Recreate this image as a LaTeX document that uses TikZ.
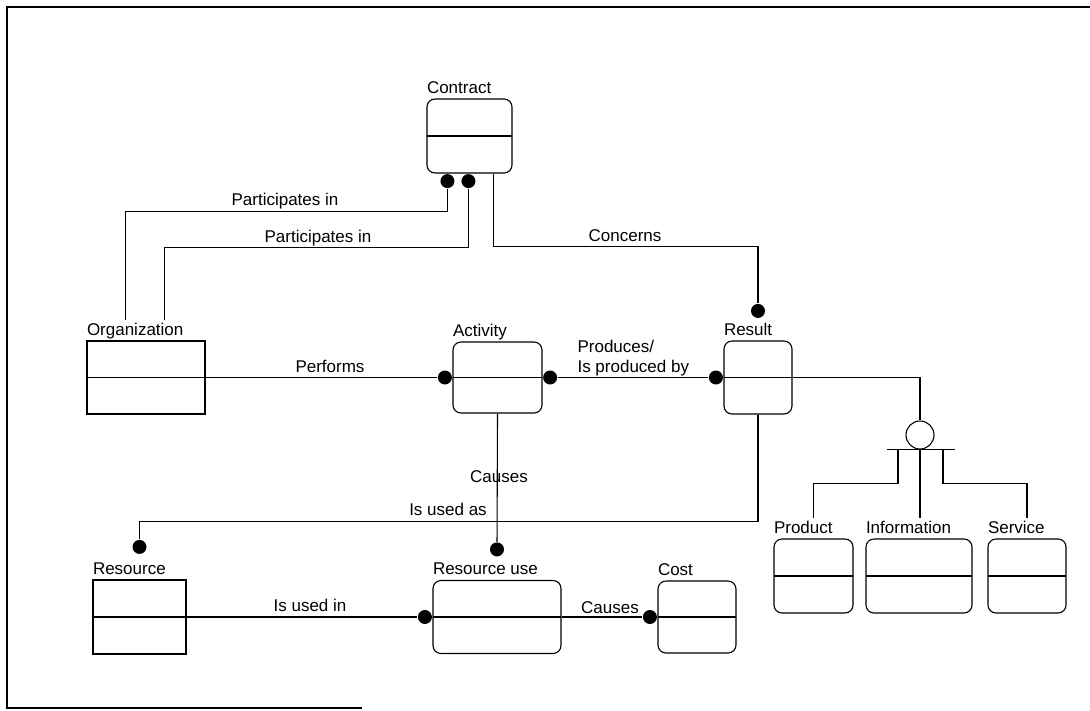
\documentclass[tikz,border=0pt]{standalone}
\usepackage{fontspec}
\setmainfont{Liberation Sans}
\usetikzlibrary{positioning}

\begin{document}
\begin{tikzpicture}[x=1pt, y=-1pt, line width=1.1pt,
  every node/.style={font=\fontsize{17}{20}\selectfont},
  entity/.style={draw, rounded corners=8pt, minimum height=73pt,
    path picture={\draw[line width=1.1pt] (path picture bounding box.west) -- (path picture bounding box.east);}},
  sqentity/.style={entity, sharp corners},
  ename/.style={anchor=base west, inner xsep=0pt, inner ysep=3pt, yshift=5pt},
  blob/.style={circle, fill, inner sep=0pt, minimum size=14pt}]

\useasboundingbox (0,0) rectangle (1090,710);
\draw[line width=2pt] (1090,7) -- (7,7) -- (7,708) -- (362,708);


\node[entity, minimum width=85pt, minimum height=74pt] (contract) at (469.5,136) {};
\node[sqentity, minimum width=118pt] (org) at (146,377.5) {};
\node[entity, minimum width=89pt, minimum height=71pt] (act) at (497.5,377.5) {};
\node[entity, minimum width=68pt] (result) at (758,377.5) {};
\node[sqentity, minimum width=93pt, minimum height=74pt] (resrc) at (139.5,617) {};
\node[entity, minimum width=128pt] (ruse) at (497,617) {};
\node[entity, minimum width=78pt, minimum height=72pt] (cost) at (697,617) {};
\node[entity, minimum width=79pt, minimum height=74pt] (prod) at (813.5,576) {};
\node[entity, minimum width=106pt, minimum height=74pt] (info) at (919,576) {};
\node[entity, minimum width=78pt, minimum height=74pt] (serv) at (1027,576) {};

\node[ename] (contractlbl) at (contract.north west) {Contract};
\node[ename] (orglbl) at (org.north west) {Organization};
\node[ename] (actlbl) at (act.north west) {Activity};
\node[ename] (resultlbl) at (result.north west) {Result};
\node[ename] (resrclbl) at (resrc.north west) {Resource};
\node[ename] (uselbl) at (ruse.north west) {Resource use};
\node[ename] (costlbl) at (cost.north west) {Cost};
\node[ename] (prodlbl) at (prod.north west) {Product};
\node[ename] (infolbl) at (info.north west) {Information};
\node[ename] (servlbl) at (serv.north west) {Service};


\node[blob, anchor=north] (cdot1) at ([xshift=21pt]contract.south west) {};
\node[blob, anchor=north] (cdot2) at ([xshift=42pt]contract.south west) {};
\node[blob, anchor=east] (adot1) at (act.west) {};
\node[blob, anchor=west] (adot2) at (act.east) {};
\node[blob, anchor=east] (rdot1) at (result.west) {};
\node[blob, anchor=south] (rdot2) at ([yshift=22pt]result.north) {};
\node[blob, anchor=south] (sdot) at ([yshift=25pt]resrc.north) {};
\node[blob, anchor=south] (udot1) at ([yshift=23pt]ruse.north) {};
\node[blob, anchor=east] (udot2) at (ruse.west) {};
\node[blob, anchor=east] (kdot) at (cost.west) {};

\draw (cdot1) -- ++(0,30) -| ([xshift=39pt]orglbl.north west);
\draw (cdot2) -- ++(0,66) -| ([xshift=78pt]orglbl.north west);
\draw ([xshift=-19pt]contract.south east) -- ++(0,73) -| (rdot2);
\draw (org.east) -- (adot1);
\draw (adot2) -- (rdot1);
\draw (act.south) -- (udot1);
\draw (result.south) -- ++(0,107) -| (sdot);
\draw (resrc.east) -- (udot2);
\draw (ruse.east) -- (kdot);

\node[anchor=base] (lpart1) at (285,205) {Participates in};
\node[anchor=base] (lpart2) at (318,242) {Participates in};
\node[anchor=base] (lconc) at (625,241) {Concerns};
\node[anchor=base] (lperf) at (330,372) {Performs};
\node[anchor=base west, align=left, inner xsep=0pt] (lprod) at (577,372) {Produces/\\Is produced by};
\node[anchor=base] (lcause1) at (499,482) {Causes};
\node[anchor=base] (lusedas) at (448,515) {Is used as};
\node[anchor=base] (lusedin) at (310,611) {Is used in};
\node[anchor=base] (lcause2) at (610,613) {Causes};


\node[circle, draw, minimum size=28pt, inner sep=0pt] (gen) at (920,435) {};
\draw (result.east) -| (gen.north);
\draw ([xshift=-33pt]gen.south) -- ([xshift=35pt]gen.south);
\draw ([xshift=-22pt]gen.south) -- ++(0,34) -| (prod.north |- prodlbl.north);
\draw (gen.south) -- (gen.south |- infolbl.north);
\draw ([xshift=23pt]gen.south) -- ++(0,34) -| (serv.north |- servlbl.north);

\end{tikzpicture}
\end{document}
